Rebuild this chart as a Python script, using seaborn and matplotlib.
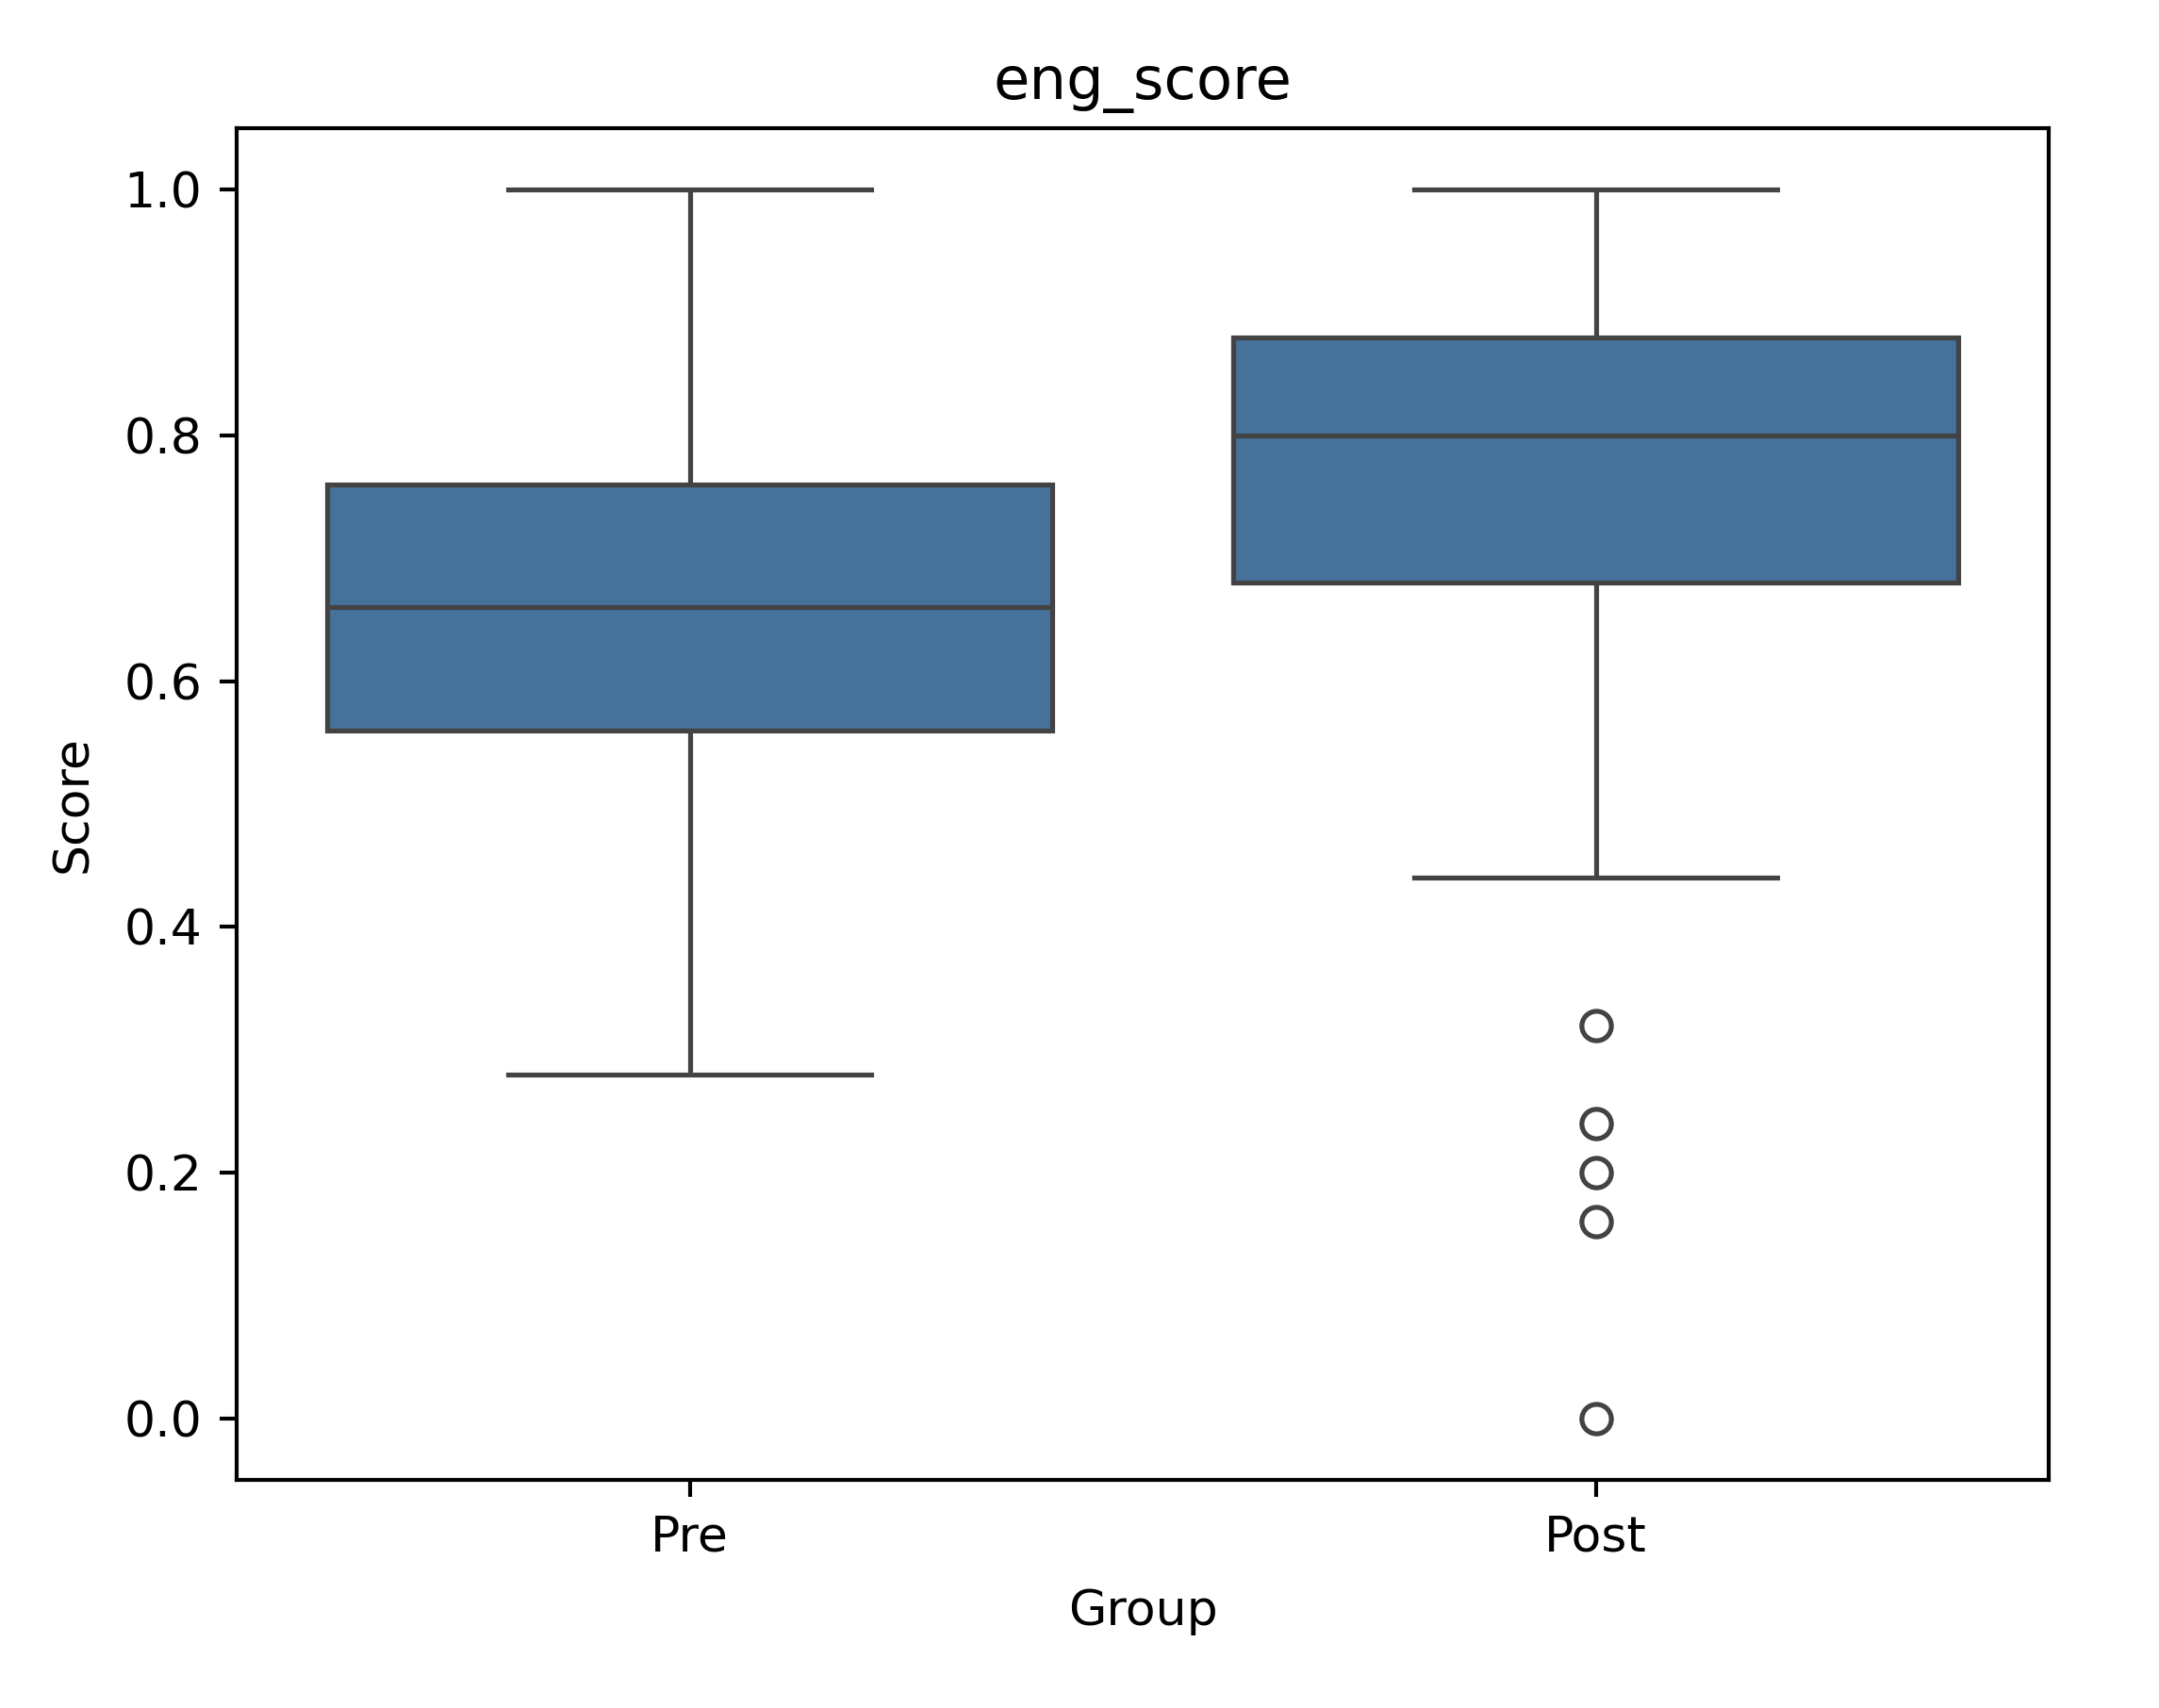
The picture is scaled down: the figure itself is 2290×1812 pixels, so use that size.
"""Box plot of eng_score, Pre vs Post."""
import numpy as np
import pandas as pd
import matplotlib
matplotlib.use("Agg")
import matplotlib.pyplot as plt
import seaborn as sns

GROUPS = ["Pre", "Post"]
BOX_COLOR = "#45719a"

# scores (quartiles, whiskers and outliers match the boxes)
pre_scores = [0.28, 0.40, 0.48, 0.52, 0.56, 0.56, 0.60, 0.62, 0.64, 0.66, 0.66,
              0.68, 0.70, 0.72, 0.76, 0.76, 0.80, 0.84, 0.88, 0.92, 1.00]
post_scores = [0.00, 0.16, 0.20, 0.24, 0.32, 0.44, 0.52, 0.56, 0.60, 0.64, 0.68,
               0.68, 0.72, 0.72, 0.76, 0.76, 0.76, 0.78, 0.80, 0.80, 0.80,
               0.80, 0.82, 0.84, 0.84, 0.84, 0.86, 0.88, 0.88, 0.88, 0.88,
               0.88, 0.92, 0.92, 0.92, 0.96, 0.96, 0.96, 1.00, 1.00, 1.00]

df = pd.DataFrame({
    "Group": ["Pre"] * len(pre_scores) + ["Post"] * len(post_scores),
    "Score": pre_scores + post_scores,
})

DPI = 375
fig, ax = plt.subplots(figsize=(2290 / DPI, 1812 / DPI), dpi=DPI)
fig.subplots_adjust(left=0.1096, right=0.949, top=0.925, bottom=0.1336)
sns.boxplot(data=df, x="Group", y="Score", order=GROUPS, color=BOX_COLOR,
            saturation=1, ax=ax)
ax.set_title("eng_score")
ax.set_xlabel("Group", labelpad=5.5)
ax.set_ylabel("Score", labelpad=5.5)

fig.savefig("out.png", dpi=DPI)
plt.close(fig)
